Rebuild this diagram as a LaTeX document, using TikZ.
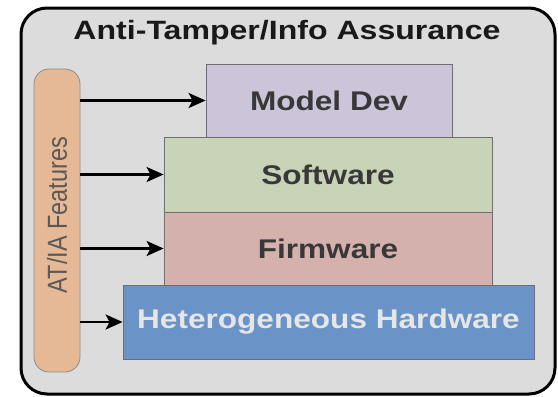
\documentclass[tikz,border=0pt]{standalone}
\usepackage{fontspec}
\setmainfont{Liberation Sans}
\usepackage{graphicx}
\usetikzlibrary{arrows.meta}

\definecolor{panelgray}{HTML}{DCDCDC}
\definecolor{pillfill}{HTML}{E5B995}
\definecolor{pillline}{HTML}{8C8C8C}
\definecolor{modelfill}{HTML}{CCC4D8}
\definecolor{softfill}{HTML}{C9D3B8}
\definecolor{firmfill}{HTML}{D4B1AD}
\definecolor{hardfill}{HTML}{6A93C8}
\definecolor{boxline}{HTML}{6E6E6E}
\definecolor{labeltext}{HTML}{383838}
\definecolor{hardtext}{HTML}{E6E6E6}

% text is set slightly wide
\newcommand{\widetext}[1]{\scalebox{1.17}[1]{#1}}

\tikzset{
  layer/.style={draw=boxline, line width=0.8pt, inner sep=0pt,
    font=\fontsize{27}{30}\selectfont\bfseries, text=labeltext},
  feedarrow/.style={line width=2.4pt,
    -{Stealth[length=17pt,width=15pt,inset=4pt]}},
}

\begin{document}
\begin{tikzpicture}[x=1pt,y=-1pt]
  \useasboundingbox (0,0) rectangle (558,397);

  % outer panel
  \node[draw=black, line width=3pt, fill=panelgray, rounded corners=26pt,
        minimum width=534pt, minimum height=386pt, inner sep=0pt]
        (panel) at (288,201) {};
  \node[font=\fontsize{26.5}{30}\selectfont\bfseries, text=black!90]
        (title) at (287,33) {\scalebox{1.21}[1]{Anti-Tamper/Info Assurance}};

  % feature bar on the left
  \node[draw=pillline, line width=0.8pt, fill=pillfill, rounded corners=15pt,
        minimum width=46pt, minimum height=303pt, inner sep=0pt]
        (pill) at (57,220.5) {};
  \node[font=\fontsize{23.5}{26}\selectfont, text=black!65]
        (pilltext) at (57,215) {\scalebox{1.17}[1]{\rotatebox{90}{AT/IA Features}}};

  % stacked layers
  \node[layer, fill=modelfill, minimum width=246pt, minimum height=73pt]
        (model) at (329,100.5) {\widetext{Model Dev}};
  \node[layer, fill=softfill, minimum width=328pt, minimum height=75pt]
        (soft) at (328,174.5) {\widetext{Software}};
  \node[layer, fill=firmfill, minimum width=328pt, minimum height=73pt]
        (firm) at (328,248.5) {\widetext{Firmware}};
  \node[layer, fill=hardfill, text=hardtext, minimum width=411pt, minimum height=74pt]
        (hard) at (328.5,322) {\widetext{Heterogeneous Hardware}};

  % arrows from the feature bar into each layer
  \foreach \n in {model,soft,firm,hard}
    \draw[feedarrow] (pill.east |- \n.west) -- (\n.west);
\end{tikzpicture}
\end{document}
